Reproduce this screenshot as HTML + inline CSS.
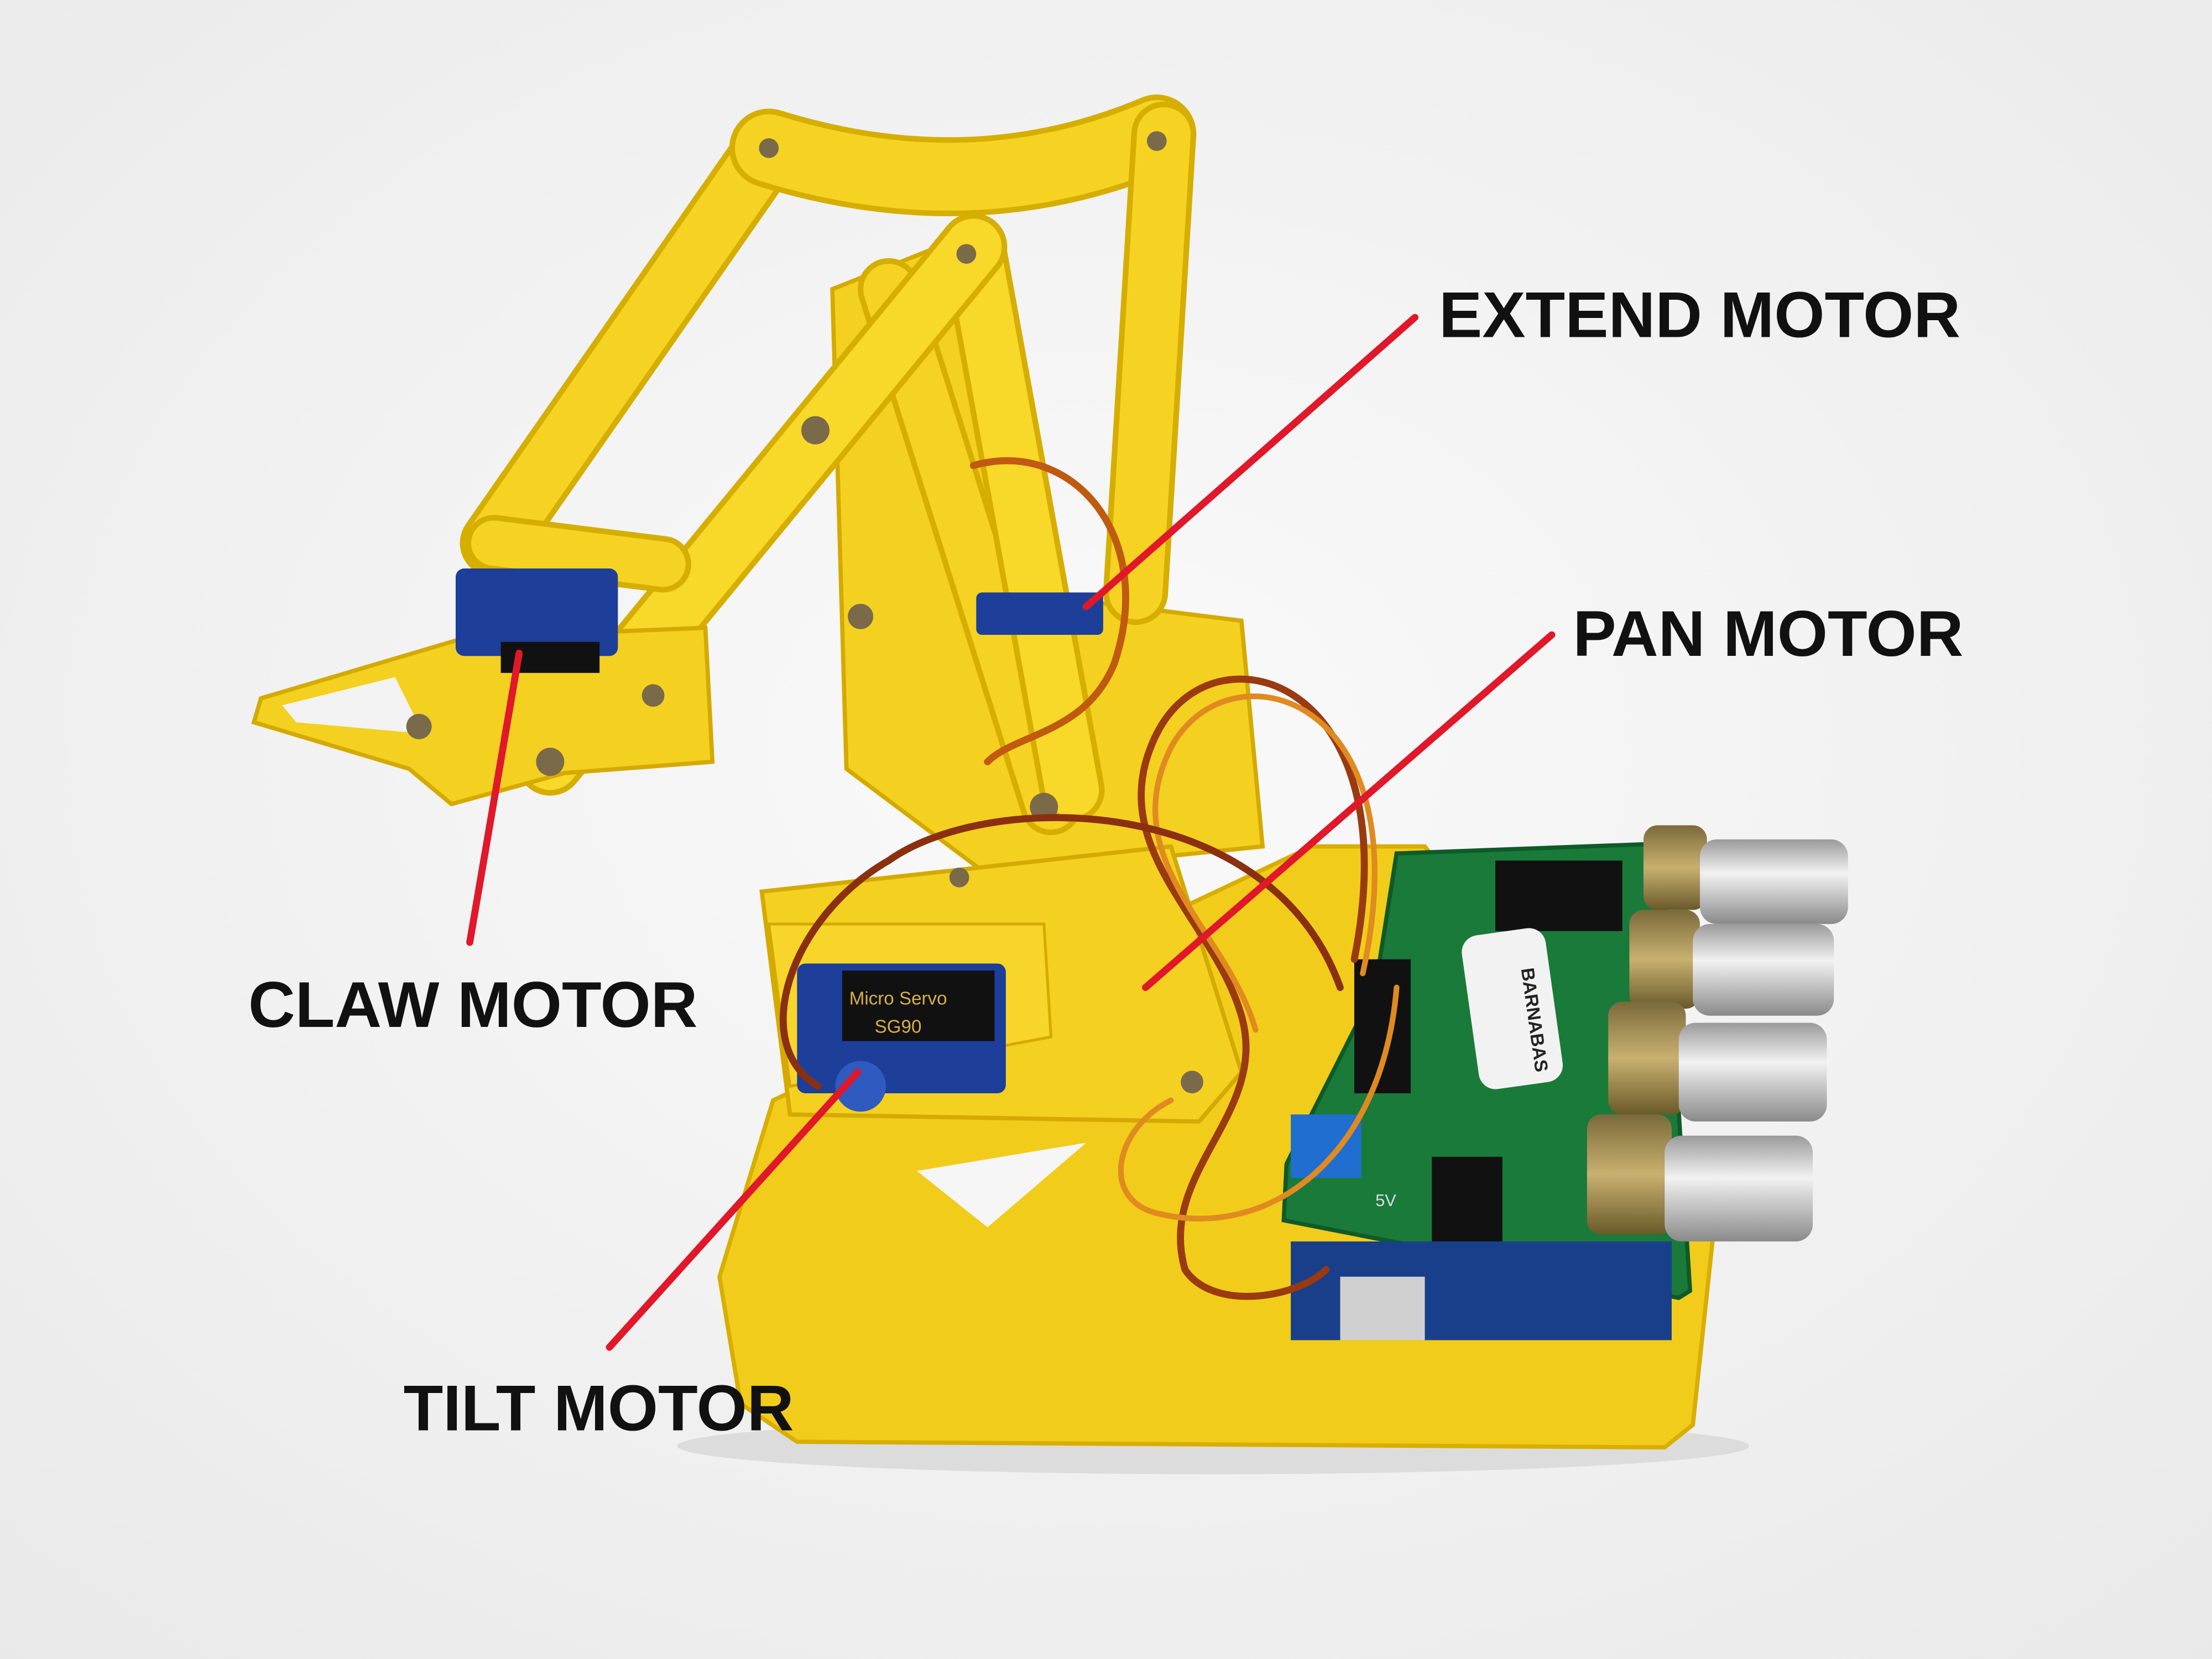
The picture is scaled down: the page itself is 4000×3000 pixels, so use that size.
<!DOCTYPE html>
<html><head><meta charset="utf-8"><style>
html,body{margin:0;padding:0;width:4000px;height:3000px;overflow:hidden;background:#f3f3f3}
svg{display:block}
text{font-family:"Liberation Sans","DejaVu Sans",sans-serif;font-weight:bold;fill:#111}
</style></head><body>
<svg width="4000" height="3000" viewBox="0 0 1568 1176" xmlns="http://www.w3.org/2000/svg">
<defs>
<radialGradient id="bg" cx="0.5" cy="0.45" r="0.75"><stop offset="0" stop-color="#fafafa"/><stop offset="1" stop-color="#e9e9e9"/></radialGradient>
<linearGradient id="silver" x1="0" y1="0" x2="0" y2="1"><stop offset="0" stop-color="#9a9a9a"/><stop offset="0.4" stop-color="#f2f2f2"/><stop offset="1" stop-color="#8a8a8a"/></linearGradient>
<linearGradient id="gold" x1="0" y1="0" x2="0" y2="1"><stop offset="0" stop-color="#7a6a3a"/><stop offset="0.5" stop-color="#c8b070"/><stop offset="1" stop-color="#6a5a2a"/></linearGradient>
</defs>
<rect width="1568" height="1176" fill="url(#bg)"/>
<!-- shadow -->
<ellipse cx="860" cy="1025" rx="380" ry="20" fill="#dcdcdc"/>
<!-- base plate -->
<polygon points="548,780 930,600 1010,600 1215,870 1200,1010 1180,1026 565,1022 525,995 510,905" fill="#f2cc1a" stroke="#d8ae00" stroke-width="3"/>
<polygon points="650,830 770,810 700,870" fill="#f6f6f6"/>
<!-- tower -->
<polygon points="590,205 690,165 720,420 880,440 895,600 700,620 600,545" fill="#f4d020" stroke="#d4aa00" stroke-width="3"/>
<!-- arm bars -->
<g stroke-linecap="round" fill="none">
<path d="M545,105 L350,385" stroke="#d6ae00" stroke-width="48"/><path d="M545,105 L350,385" stroke="#f6d322" stroke-width="40"/>
<path d="M545,105 Q690,150 820,95" stroke="#d6ae00" stroke-width="56"/><path d="M545,105 Q690,150 820,95" stroke="#f6d322" stroke-width="48"/>
<path d="M825,95 L805,420" stroke="#d6ae00" stroke-width="46"/><path d="M825,95 L805,420" stroke="#f6d322" stroke-width="38"/>
<path d="M630,205 L745,570" stroke="#d6ae00" stroke-width="44"/><path d="M630,205 L745,570" stroke="#f6d322" stroke-width="36"/>
<path d="M690,175 L760,560" stroke="#d6ae00" stroke-width="46"/><path d="M690,175 L760,560" stroke="#f8d828" stroke-width="38"/>
<path d="M690,175 L390,540" stroke="#d6ae00" stroke-width="48"/><path d="M690,175 L390,540" stroke="#f8d828" stroke-width="40"/>
<path d="M350,385 L470,400" stroke="#d6ae00" stroke-width="40"/><path d="M350,385 L470,400" stroke="#f6d322" stroke-width="32"/>
</g>
<!-- claw -->
<polygon points="185,495 330,452 500,445 505,540 400,548 320,570 290,545 180,512" fill="#f4d020" stroke="#d4aa00" stroke-width="3"/>
<polygon points="200,500 280,480 300,520 210,512" fill="#f3f3f3"/>
<!-- servos -->
<rect x="323" y="403" width="115" height="62" rx="6" fill="#1d3f9a"/>
<rect x="355" y="455" width="70" height="22" fill="#111"/>
<rect x="692" y="420" width="90" height="30" rx="4" fill="#1d3f9a"/>
<!-- tilt plate -->
<polygon points="540,632 830,600 880,760 850,795 560,790" fill="#f4d020" stroke="#d4aa00" stroke-width="3"/>
<polygon points="545,655 740,655 745,735 560,770" fill="#f7d52a" stroke="#d4aa00" stroke-width="2"/>
<rect x="565" y="683" width="148" height="92" rx="6" fill="#1d3f9a"/>
<rect x="597" y="688" width="108" height="50" fill="#111"/>
<text x="602" y="712" style="font-size:13px;fill:#d9b048;font-weight:normal">Micro Servo</text>
<text x="620" y="732" style="font-size:13px;fill:#d9b048;font-weight:normal">SG90</text>
<circle cx="610" cy="770" r="18" fill="#2f5ac0"/>
<!-- screws -->
<g fill="#7a6a4a">
<circle cx="545" cy="105" r="7"/><circle cx="820" cy="100" r="7"/><circle cx="685" cy="180" r="7"/>
<circle cx="578" cy="305" r="10"/><circle cx="610" cy="437" r="9"/><circle cx="740" cy="572" r="10"/>
<circle cx="390" cy="540" r="10"/><circle cx="463" cy="493" r="8"/><circle cx="297" cy="515" r="9"/>
<circle cx="845" cy="767" r="8"/><circle cx="680" cy="622" r="7"/>
</g>
<!-- PCB -->
<polygon points="990,605 1178,598 1198,915 1190,920 910,865 912,825 975,700" fill="#1a7a3a" stroke="#0f5a28" stroke-width="3"/>
<rect x="915" y="880" width="270" height="70" fill="#1a3f8a"/>
<rect x="950" y="905" width="60" height="45" fill="#d0d0d0"/>
<rect x="1060" y="610" width="90" height="50" fill="#111"/>
<rect x="1042" y="660" width="60" height="110" rx="12" fill="#f2f2f2" transform="rotate(-8 1072 715)"/>
<text x="1058" y="690" style="font-size:13px;fill:#222" transform="rotate(82 1070 700)">BARNABAS</text>
<rect x="915" y="790" width="50" height="45" fill="#1f6ed0"/>
<rect x="1015" y="820" width="50" height="60" fill="#111"/>
<rect x="960" y="680" width="40" height="95" fill="#111"/>
<text x="975" y="855" style="font-size:12px;fill:#ddd;font-weight:normal">5V</text>
<!-- knobs -->
<g>
<rect x="1165" y="585" width="45" height="60" rx="10" fill="url(#gold)"/><rect x="1205" y="595" width="105" height="60" rx="12" fill="url(#silver)"/>
<rect x="1155" y="645" width="50" height="70" rx="10" fill="url(#gold)"/><rect x="1200" y="655" width="100" height="65" rx="12" fill="url(#silver)"/>
<rect x="1140" y="710" width="55" height="80" rx="10" fill="url(#gold)"/><rect x="1190" y="725" width="105" height="70" rx="12" fill="url(#silver)"/>
<rect x="1125" y="790" width="60" height="85" rx="10" fill="url(#gold)"/><rect x="1180" y="805" width="105" height="75" rx="12" fill="url(#silver)"/>
</g>
<!-- wires -->
<g fill="none" stroke-linecap="round">
<path d="M960,680 C1000,480 860,440 820,520 C780,600 860,650 880,720 C900,790 820,830 840,900 C860,930 920,920 940,900" stroke="#9a3a10" stroke-width="5"/>
<path d="M966,690 C1010,490 870,455 830,530 C790,610 870,660 890,730" stroke="#e08a20" stroke-width="4"/>
<path d="M950,700 C900,560 700,560 630,610 C560,650 530,740 580,770" stroke="#8a3010" stroke-width="5"/>
<path d="M690,330 C760,310 820,380 790,470 C770,520 720,520 700,540" stroke="#c05a10" stroke-width="5"/>
<path d="M990,700 C980,820 900,880 820,860 C780,850 790,800 830,780" stroke="#e08a20" stroke-width="4"/>
</g>
<!-- red lines -->
<g stroke="#e0182a" stroke-width="5" stroke-linecap="round">
<line x1="1003" y1="225" x2="770" y2="430"/>
<line x1="1100" y1="450" x2="812" y2="700"/>
<line x1="368" y1="463" x2="333" y2="668"/>
<line x1="608" y1="760" x2="432" y2="955"/>
</g>
<!-- labels -->
<text x="1020" y="239" style="font-size:46px">EXTEND MOTOR</text>
<text x="1115" y="465" style="font-size:46px">PAN MOTOR</text>
<text x="176" y="728" style="font-size:46px">CLAW MOTOR</text>
<text x="286" y="1014" style="font-size:46px">TILT MOTOR</text>
</svg>
</body></html>
